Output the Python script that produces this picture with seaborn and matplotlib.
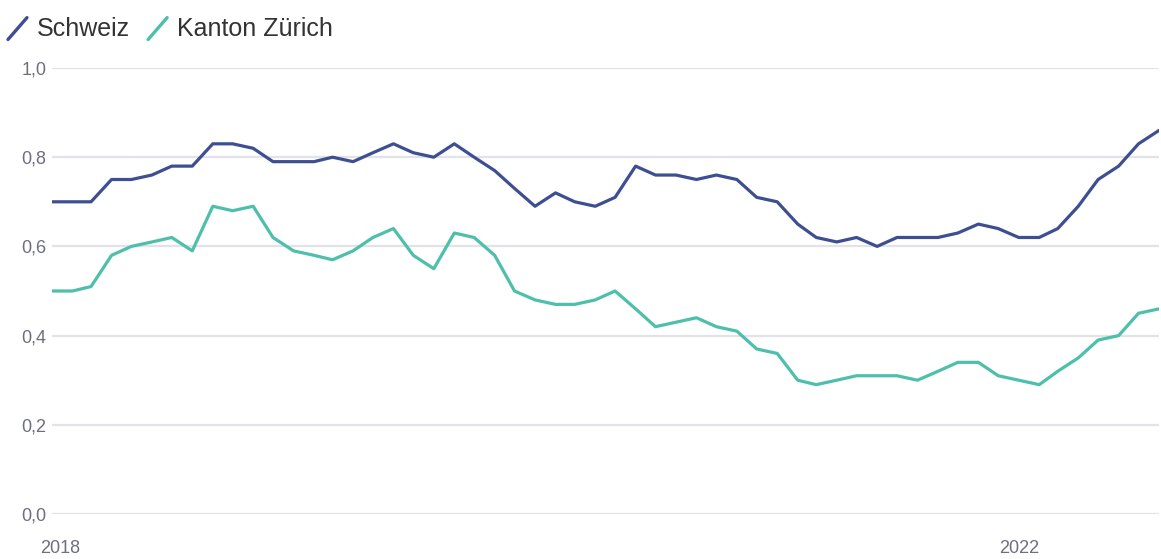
import numpy as np
import pandas as pd
import matplotlib
matplotlib.use("Agg")
import matplotlib.pyplot as plt
import matplotlib.transforms as mtransforms
from matplotlib.legend_handler import HandlerBase
from matplotlib.lines import Line2D
import seaborn as sns

# ---------------- data ----------------
months = pd.date_range("2018-01-01", "2022-08-01", freq="MS")

schweiz = [0.70, 0.70, 0.70, 0.75, 0.75, 0.76, 0.78, 0.78, 0.83, 0.83,
           0.82, 0.79, 0.79, 0.79, 0.80, 0.79, 0.81, 0.83, 0.81, 0.80,
           0.83, 0.80, 0.77, 0.73, 0.69, 0.72, 0.70, 0.69, 0.71, 0.78,
           0.76, 0.76, 0.75, 0.76, 0.75, 0.71, 0.70, 0.65, 0.62, 0.61,
           0.62, 0.60, 0.62, 0.62, 0.62, 0.63, 0.65, 0.64, 0.62, 0.62,
           0.64, 0.69, 0.75, 0.78, 0.83, 0.86]

zuerich = [0.50, 0.50, 0.51, 0.58, 0.60, 0.61, 0.62, 0.59, 0.69, 0.68,
           0.69, 0.62, 0.59, 0.58, 0.57, 0.59, 0.62, 0.64, 0.58, 0.55,
           0.63, 0.62, 0.58, 0.50, 0.48, 0.47, 0.47, 0.48, 0.50, 0.46,
           0.42, 0.43, 0.44, 0.42, 0.41, 0.37, 0.36, 0.30, 0.29, 0.30,
           0.31, 0.31, 0.31, 0.30, 0.32, 0.34, 0.34, 0.31, 0.30, 0.29,
           0.32, 0.35, 0.39, 0.40, 0.45, 0.46]

series_names = ["Schweiz", "Kanton Zürich"]
colors = ["#3e4f91", "#4dbfab"]
y_ticks = [0.0, 0.2, 0.4, 0.6, 0.8, 1.0]
x_tick_dates = [pd.Timestamp("2018-01-01"), pd.Timestamp("2022-01-01")]
x_tick_labels = ["2018", "2022"]

df = pd.concat([
    pd.DataFrame({"Monat": months, "Wert": schweiz, "Serie": series_names[0]}),
    pd.DataFrame({"Monat": months, "Wert": zuerich, "Serie": series_names[1]}),
])

# ---------------- style ----------------
sns.set_theme(style="white")
plt.rcParams["font.family"] = ["Liberation Sans", "DejaVu Sans"]

W, H = 1161, 559
fig = plt.figure(figsize=(W / 100, H / 100), dpi=100)
ax = fig.add_axes([52 / W, (H - 514) / H, (1159 - 52) / W, (514 - 68) / H])

sns.lineplot(data=df, x="Monat", y="Wert", hue="Serie",
             palette=dict(zip(series_names, colors)),
             linewidth=2.3, ax=ax, legend=False)

ax.set_xlim(months[0], months[-1])
ax.set_ylim(0, 1.0)
ax.set_xlabel("")
ax.set_ylabel("")

for s in ax.spines.values():
    s.set_visible(False)

grid_color = "#e2e2e9"
ax.set_yticks(y_ticks)
ax.set_yticklabels([f"{v:.1f}".replace(".", ",") for v in y_ticks])
ax.yaxis.grid(True, color=grid_color, linewidth=1.6)
ax.set_axisbelow(True)
ax.tick_params(axis="y", length=0, pad=4, labelsize=13, labelcolor="#6e6f7e")

ax.set_xticks(x_tick_dates)
ax.set_xticklabels(x_tick_labels)
ax.tick_params(axis="x", length=7, width=1.3, color="#d4d4dc", pad=12,
               labelsize=13, labelcolor="#6e6f7e")
# nudge first label to the right like the reference
offset = mtransforms.ScaledTranslation(8 / 100, 0, fig.dpi_scale_trans)
ax.get_xticklabels()[0].set_transform(ax.get_xticklabels()[0].get_transform() + offset)


# ---------------- legend with slanted line icons ----------------
class HandlerSlant(HandlerBase):
    def create_artists(self, legend, orig_handle, xdescent, ydescent,
                       width, height, fontsize, trans):
        line = Line2D([-xdescent, -xdescent + width],
                      [-ydescent - 0.2 * height, -ydescent + 1.05 * height],
                      color=orig_handle.get_color(), linewidth=2.4,
                      solid_capstyle="round")
        line.set_transform(trans)
        return [line]


handles = [Line2D([], [], color=c) for c in colors]
fig.legend(handles, series_names, loc="upper left",
           bbox_to_anchor=(8 / W, 1 - 17 / H), ncol=2, frameon=False,
           fontsize=18, handlelength=0.76, handletextpad=0.4,
           columnspacing=0.72, labelcolor="#333333",
           handler_map={Line2D: HandlerSlant()}, borderpad=0,
           borderaxespad=0)

fig.savefig("out.png", dpi=100, facecolor="white")
